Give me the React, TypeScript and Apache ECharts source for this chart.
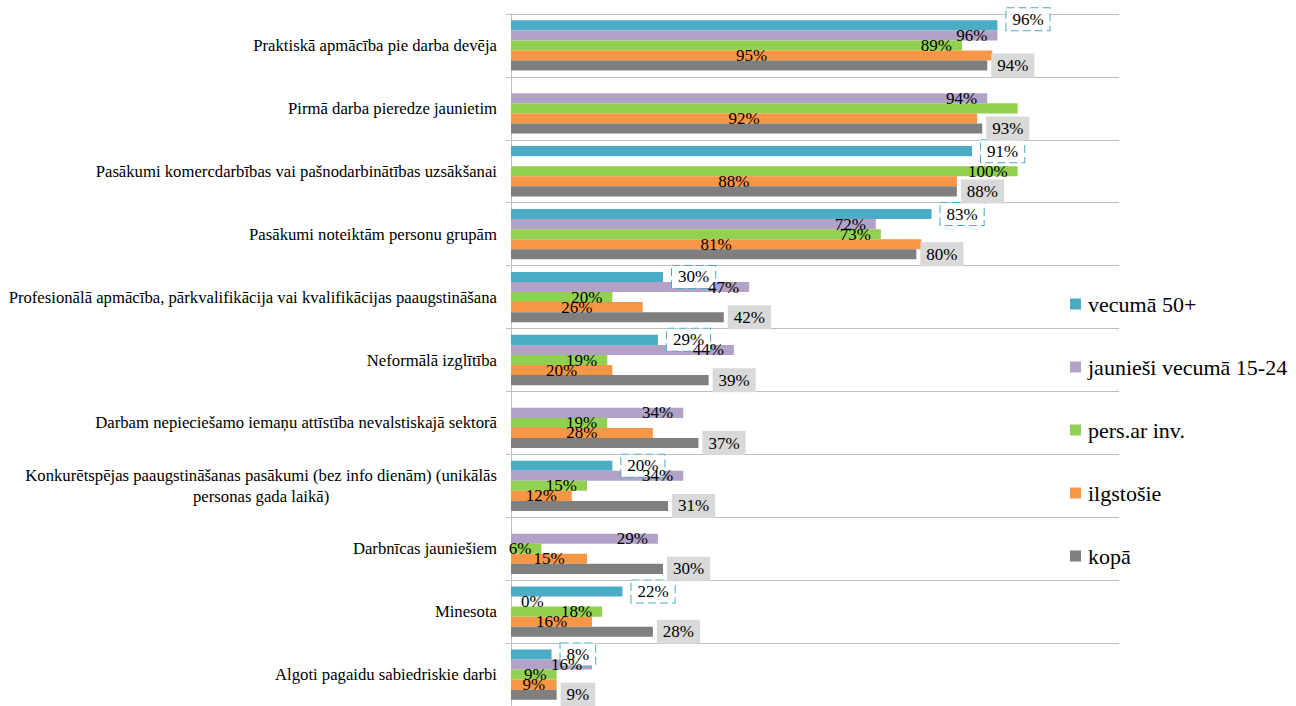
import React, { useEffect, useRef } from 'react';
import * as echarts from 'echarts';

const categories = [
  'Praktiskā apmācība pie darba devēja',
  'Pirmā darba pieredze jaunietim',
  'Pasākumi komercdarbības vai pašnodarbinātības uzsākšanai',
  'Pasākumi noteiktām personu grupām',
  'Profesionālā apmācība, pārkvalifikācija vai kvalifikācijas paaugstināšana',
  'Neformālā izglītība',
  'Darbam nepieciešamo iemaņu attīstība nevalstiskajā sektorā',
  'Konkurētspējas paaugstināšanas pasākumi (bez info dienām) (unikālās\npersonas gada laikā)',
  'Darbnīcas jauniešiem',
  'Minesota',
  'Algoti pagaidu sabiedriskie darbi',
];

const seriesNames = ['vecumā 50+', 'jaunieši vecumā 15-24', 'pers.ar inv.', 'ilgstošie', 'kopā'];

const vecuma50 = [96, null, 91, 83, 30, 29, null, 20, null, 22, 8];
const jauniesi = [96, 94, null, 72, 47, 44, 34, 34, 29, 0, 16];
const persArInv = [89, 100, 100, 73, 20, 19, 19, 15, 6, 18, 9];
const ilgstosie = [95, 92, 88, 81, 26, 20, 28, 12, 15, 16, 9];
const kopa = [94, 93, 88, 80, 42, 39, 37, 31, 30, 28, 9];

// labels not shown in the reference: [seriesIndex, dataIndex]
const hiddenLabels: [number, number][] = [[2, 1]];

const colors = ['#4BACC6', '#B3A2C7', '#92D050', '#F79646', '#7F7F7F'];

const FONT = 'Times New Roman, Liberation Serif, DejaVu Serif, serif';

export default function App() {
  const ref = useRef<HTMLDivElement>(null);
  useEffect(() => {
    if (!ref.current) return;
    const chart = echarts.init(ref.current, undefined, { renderer: 'svg' });
    const allValues = [vecuma50, jauniesi, persArInv, ilgstosie, kopa];

    const labelStyles: any[] = [
      {
        position: 'right',
        distance: 9,
        backgroundColor: '#fff',
        borderColor: '#4BACC6',
        borderType: 'dashed',
        borderWidth: 1,
        padding: [3, 6, 2, 6],
      },
      { position: 'insideRight', distance: 10 },
      { position: 'insideRight', distance: 10 },
      { position: 'inside' },
      {
        position: 'right',
        distance: 4,
        backgroundColor: '#D9D9D9',
        padding: [4, 6, 3, 6],
      },
    ];

    const series = allValues.map((vals, si) => ({
      name: seriesNames[si],
      type: 'bar',
      barGap: '0%',
      barCategoryGap: '20%',
      itemStyle: { color: colors[si] },
      label: {
        show: true,
        color: '#000',
        fontFamily: FONT,
        fontSize: 17,
        formatter: (p: any) => `${p.value}%`,
        ...labelStyles[si],
      },
      data: vals.map((v, di) => {
        if (v === null) return null;
        if (hiddenLabels.some(([s, d]) => s === si && d === di)) {
          return { value: v, label: { show: false } };
        }
        if (v === 0 && labelStyles[si].position === 'insideRight') {
          return { value: v, label: { position: 'right', distance: 10 } };
        }
        if (si === 0 && di === 0) {
          return { value: v, label: { offset: [0, -6] } };
        }
        return v;
      }),
    }));

    chart.setOption({
      animation: false,
      textStyle: { fontFamily: FONT },
      grid: { left: 511, right: 177, top: 14, bottom: -4, containLabel: false },
      legend: {
        orient: 'vertical',
        left: 1065,
        top: 288,
        icon: 'rect',
        itemWidth: 11,
        itemHeight: 11,
        itemGap: 41,
        textStyle: { fontFamily: FONT, fontSize: 22, color: '#000', padding: [0, 0, 0, 2] },
        data: seriesNames,
      },
      xAxis: {
        type: 'value',
        min: 0,
        max: 120,
        show: false,
        splitLine: { show: false },
      },
      yAxis: {
        type: 'category',
        data: categories,
        inverse: true,
        axisLine: { show: true, lineStyle: { color: '#BFBFBF' } },
        axisTick: { show: true, length: 5, lineStyle: { color: '#BFBFBF' } },
        splitLine: { show: true, lineStyle: { color: '#BFBFBF' } },
        axisLabel: {
          interval: 0,
          margin: 14,
          color: '#000',
          fontFamily: FONT,
          fontSize: 16.7,
          lineHeight: 21,
          formatter: (v: string) =>
            v.includes('\n') ? v.split('\n').map((l) => `{c|${l}}`).join('\n') : v,
          rich: {
            c: { align: 'center', fontFamily: FONT, fontSize: 16.7, color: '#000', lineHeight: 21 },
          },
        },
      },
      series,
    });
    return () => chart.dispose();
  }, []);
  return (
    <div
      ref={ref}
      style={{ position: 'absolute', left: 0, top: 0, width: 1296, height: 706 }}
    />
  );
}
